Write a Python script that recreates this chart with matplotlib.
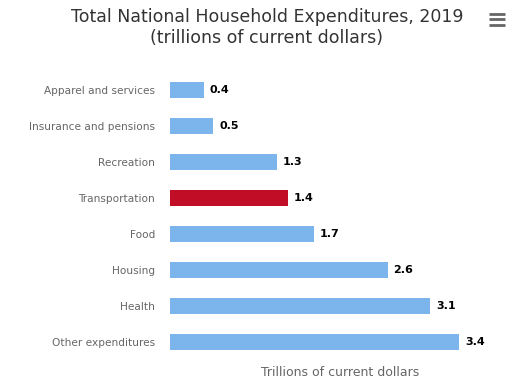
import matplotlib.pyplot as plt
from matplotlib.lines import Line2D

categories = ["Apparel and services", "Insurance and pensions", "Recreation",
              "Transportation", "Food", "Housing", "Health", "Other expenditures"]
# bar lengths (trillions of dollars)
values = [0.40, 0.51, 1.26, 1.39, 1.69, 2.56, 3.06, 3.40]
highlight = "Transportation"

BLUE = "#7cb5ec"
RED = "#c10e26"
LABEL = "#666666"
TITLE = "#333333"

plt.rcParams["font.family"] = "DejaVu Sans"

fig = plt.figure(figsize=(5.25, 3.83), dpi=100, facecolor="white")
ax = fig.add_axes([170 / 525, 23 / 383, 340 / 525, 288 / 383])

colors = [RED if c == highlight else BLUE for c in categories]
ypos = list(range(len(categories)))
ax.barh(ypos, values, height=0.47, color=colors, edgecolor="none")
ax.set_xlim(0, 4)
ax.set_ylim(len(categories) - 0.5, -0.5)

for y, v in zip(ypos, values):
    ax.text(v + 0.07, y, f"{v:.1f}", va="center", ha="left",
            fontsize=8, fontweight="bold", color="#000000")

ax.set_yticks(ypos)
ax.set_yticklabels(categories, fontsize=7.6, color=LABEL)
ax.tick_params(axis="y", length=0, pad=10.8)
ax.set_xticks([])
for s in ax.spines.values():
    s.set_visible(False)

ax.set_xlabel("Trillions of current dollars", fontsize=9, color=LABEL, labelpad=4)

fig.text(267 / 525, 1 - 27.5 / 383, "Total National Household Expenditures, 2019\n(trillions of current dollars)",
         ha="center", va="center", fontsize=12.5, color=TITLE, linespacing=1.25)

# menu icon
for yy in (13.5, 19, 24.5):
    fig.add_artist(Line2D([489 / 525, 505 / 525], [1 - yy / 383] * 2,
                          color="#666666", linewidth=2.0, solid_capstyle="butt"))

fig.savefig("out.png", dpi=100, facecolor="white")
